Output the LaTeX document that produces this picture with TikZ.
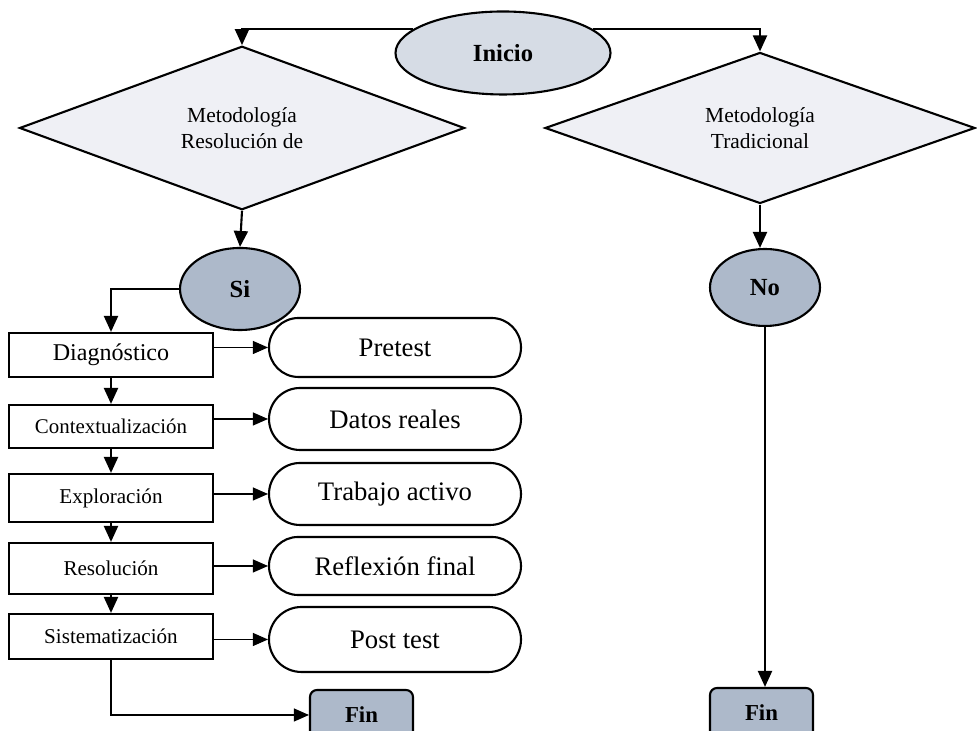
\documentclass[tikz,border=0pt]{standalone}
\usepackage{fontspec}
\setmainfont{Liberation Serif}
\usepackage{tikz}
\usetikzlibrary{positioning,arrows.meta,shapes.geometric,shapes.misc,calc}
\definecolor{startfill}{HTML}{D6DCE5}
\definecolor{endfill}{HTML}{ADB9CA}
\definecolor{decfill}{HTML}{EFF0F5}

\begin{document}
\begin{tikzpicture}[
  every node/.style={font=\fontsize{12}{14}\selectfont},
  terminal/.style={
    ellipse, draw, line width=1.2pt, fill=endfill, inner sep=0pt,
    font=\fontsize{14}{16}\selectfont\bfseries,
  },
  decision/.style={
    diamond, draw, line width=1.2pt, fill=decfill, inner sep=0pt,
    align=center, font=\fontsize{12.2}{15}\selectfont,
  },
  phase/.style={
    draw, line width=1.2pt, fill=white, inner sep=0pt,
    minimum width=4.08cm, align=center,
  },
  outcome/.style={
    rounded rectangle, draw, line width=1.2pt, fill=white, inner sep=0pt,
    minimum width=5.04cm, font=\fontsize{15.2}{17}\selectfont,
  },
  finbox/.style={
    draw, line width=1.2pt, fill=endfill, rounded corners=4pt,
    minimum width=2.06cm, minimum height=1cm,
    font=\fontsize{13}{15}\selectfont\bfseries,
  },
  arrow/.style={-{Triangle[length=3.2mm,width=2.8mm]}, line width=1.2pt},
  thinarrow/.style={-{Triangle[length=3mm,width=2.6mm]}, line width=0.6pt},
]
  \useasboundingbox (0,0) rectangle (19.54,14.62);

  % Start
  \node[terminal, fill=startfill, minimum width=4.3cm, minimum height=1.66cm]
    (inicio) at (10.06,13.56) {Inicio};

  % Two branches
  \node[decision, minimum width=8.9cm, minimum height=2.72cm]
    (resprob) at (4.84,12.06) {Metodología\\Resolución de};
  \node[decision, minimum width=8.6cm, minimum height=2.72cm]
    (trad) at (15.2,12.06) {Metodología\\Tradicional};

  \node[terminal, minimum width=2.4cm, minimum height=1.64cm] (si) at (4.8,8.84) {Si};
  \node[terminal, minimum width=2.2cm, minimum height=1.54cm] (no) at (15.3,8.87) {No};

  % Phases (left column)
  \node[phase, minimum height=0.88cm, font=\fontsize{13.7}{15}\selectfont]
    (diag) at (2.22,7.52) {Diagnóstico};
  \node[phase, minimum height=0.86cm, font=\fontsize{11.9}{13}\selectfont]
    (ctx) at (2.22,6.09) {Contextualización};
  \node[phase, minimum height=0.96cm] (expl) at (2.22,4.66) {Exploración};
  \node[phase, minimum height=1.02cm] (resol) at (2.22,3.25) {Resolución};
  \node[phase, minimum height=0.9cm] (sist) at (2.22,1.89) {Sistematización};

  % Outcomes (right column)
  \node[outcome, minimum height=1.18cm] (pre) at (7.9,7.67) {Pretest};
  \node[outcome, minimum height=1.24cm] (datos) at (7.9,6.24) {Datos reales};
  \node[outcome, minimum height=1.24cm] (trab) at (7.9,4.74) {Trabajo activo};
  \node[outcome, minimum height=1.16cm] (refl) at (7.9,3.30) {Reflexión final};
  \node[outcome, minimum height=1.3cm] (post) at (7.9,1.83) {Post test};

  % End
  \node[finbox] (finA) at (7.23,0.32) {Fin};
  \node[finbox] (finB) at (15.23,0.36) {Fin};

  % Connectors
  \draw[arrow] (inicio.165) -| (resprob.north);
  \draw[arrow] (inicio.15) -| (trad.north);
  \draw[arrow] (resprob.south) -- (si.north);
  \draw[arrow] (trad.south) -- (trad.south |- no.north);
  \draw[arrow] (si.west) -| (diag.north);
  \draw[arrow] (diag) -- (ctx);
  \draw[arrow] (ctx) -- (expl);
  \draw[arrow] (expl) -- (resol);
  \draw[arrow] (resol) -- (sist);
  \foreach \p/\o in {diag/pre, ctx/datos, expl/trab, resol/refl, sist/post}
    \draw[thinarrow] (\p.east |- \o.west) -- (\o.west);
  \draw[thinarrow] (sist.south) |- (finA.west);
  \draw[arrow] (no.south) -- (no.south |- finB.north);
\end{tikzpicture}
\end{document}
